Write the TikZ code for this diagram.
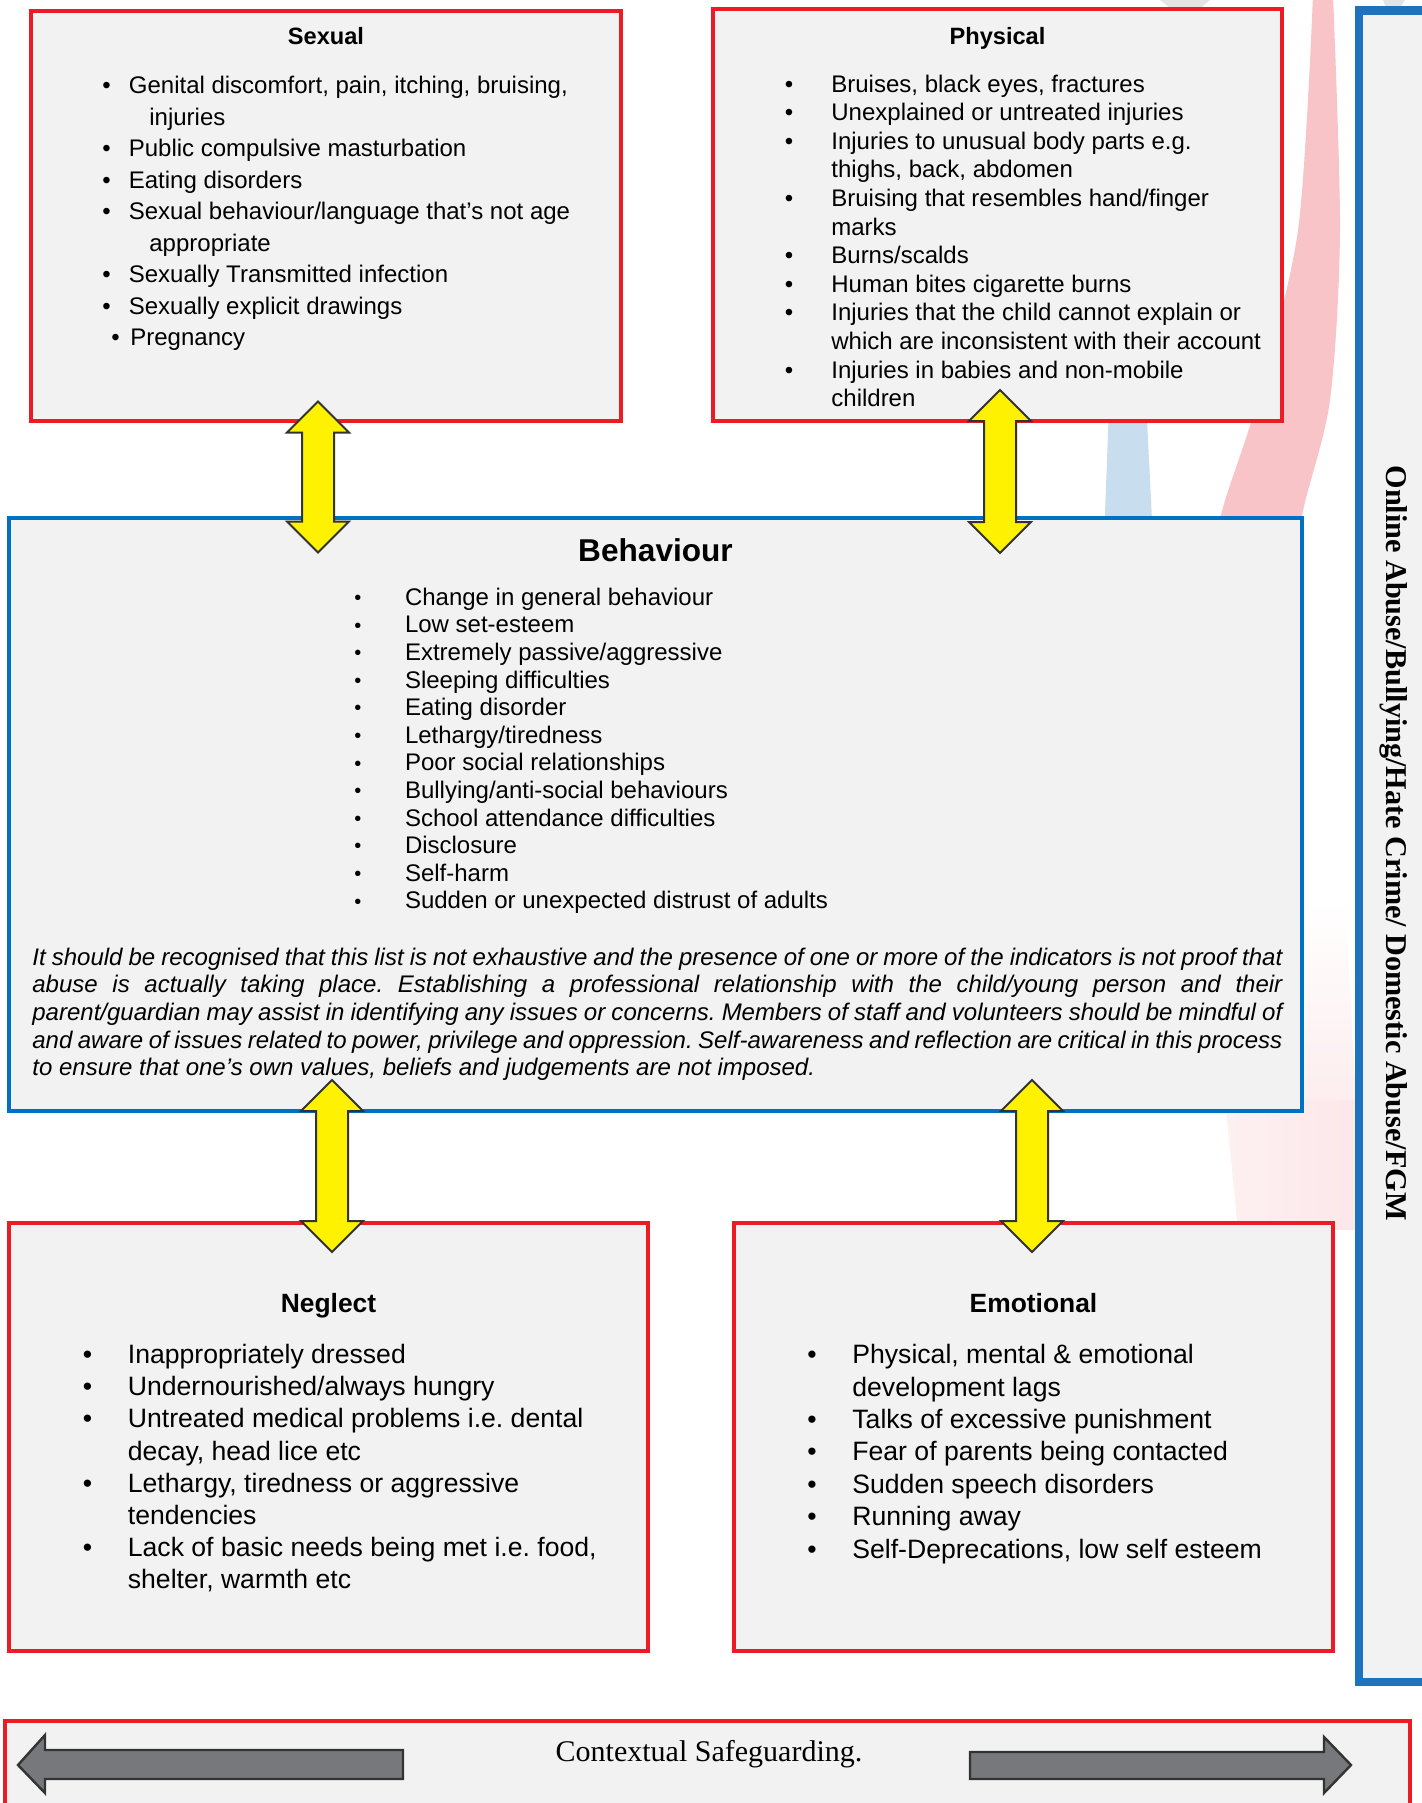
\documentclass[tikz,border=0pt]{standalone}
\usepackage{fontspec}
\setmainfont{Liberation Sans}
\newfontfamily\capfont{Liberation Serif}
\usetikzlibrary{calc}

\definecolor{boxred}{HTML}{ED1C24}
\definecolor{boxblue}{HTML}{0070C0}
\definecolor{sideblue}{HTML}{1E73BE}
\definecolor{boxfill}{HTML}{F2F2F2}
\definecolor{swpink}{HTML}{F8C4C8}
\definecolor{swblue}{HTML}{C8DDEE}
\definecolor{swgray}{HTML}{E4E4E4}
\definecolor{arrline}{HTML}{333333}
\definecolor{blockgray}{HTML}{77787B}

\newcommand{\bul}[1]{\makebox[#1][l]{\textbullet}}
\newcommand{\sbul}[1]{\makebox[#1][l]{\raisebox{0.4pt}{\fontsize{10}{10}\selectfont\textbullet}}}

\begin{document}
\frenchspacing
\begin{tikzpicture}[
    x=0.5pt, y=-0.5pt,
    box/.style={draw=boxred, fill=boxfill, line width=2pt, anchor=north west, inner sep=0pt, outer sep=0pt},
    bluebox/.style={box, draw=boxblue},
    title/.style={anchor=base, font=\fontsize{11.8}{14}\selectfont\bfseries},
    list/.style={anchor=north west, inner sep=0pt, align=left},
    yarr/.style={fill=yellow, draw=arrline, line width=1pt},
    garr/.style={fill=blockgray, draw=arrline, line width=1.2pt}
]
    \useasboundingbox (0,0) rectangle (1421,1803);

    % Background swooshes (behind the boxes)
    \fill[swgray] (1160,0) -- (1210,0) -- (1198,10) -- (1172,10) -- cycle;
    \fill[swgray] (1383,0) -- (1405,0) -- (1400,8) -- (1386,8) -- cycle;
    \fill[swpink] plot[smooth] coordinates {(1313,-5) (1298,230) (1257,402) (1222,511) (1205,600)}
        -- plot[smooth] coordinates {(1290,600) (1303,511) (1330,400) (1340,230) (1333,-5)} -- cycle;
    \shade[top color=white, bottom color=swpink!30] (1300,900) -- (1345,900) -- (1356,1100) -- (1225,1100) -- cycle;
    \shade[left color=swpink!25, right color=swpink!40] (1225,1100) -- (1356,1100) -- (1356,1230) -- (1238,1230) -- cycle;
    \fill[swblue] (1110,380) -- (1145,380) -- (1153,540) -- (1104,540) -- cycle;

    % Boxes
    \node[box, minimum width=295pt, minimum height=204.75pt] (sexual) at (31,11.5) {};
    \node[box, minimum width=284.5pt, minimum height=206pt] (physical) at (713,9) {};
    \node[bluebox, minimum width=646.5pt, minimum height=296.5pt] (behaviour) at (9,518) {};
    \node[box, minimum width=319.5pt, minimum height=214pt] (neglect) at (9,1223) {};
    \node[box, minimum width=299.5pt, minimum height=214pt] (emotional) at (734,1223) {};
    \node[box, draw=sideblue, line width=4.2pt, minimum width=60pt, minimum height=835.75pt] (online) at (1359,10.5) {};
    \node[box, minimum width=702.75pt, minimum height=100pt] (context) at (4.5,1721) {};

    % Yellow two-way arrows between the boxes
    \foreach \ax/\ya/\yb in {318/401.5/552.5, 1000/390/553, 332/1080/1252, 1032/1080/1252}
        \draw[yarr] (\ax,\ya) -- ++(31,31) -- ++(-15,0) -- ({\ax+16},{\yb-31}) -- ++(15,0) -- (\ax,\yb)
            -- ++(-31,-31) -- ++(15,0) -- ({\ax-16},{\ya+31}) -- ++(-15,0) -- cycle;

    % Grey arrows in the bottom bar
    \draw[garr] (18,1765) -- (45,1735) -- (45,1750) -- (403,1750) -- (403,1779) -- (45,1779) -- (45,1793) -- cycle;
    \draw[garr] (1351,1765) -- (1324,1737) -- (1324,1752) -- (970,1752) -- (970,1779) -- (1324,1779) -- (1324,1793) -- cycle;

    % Sexual
    \node[title] (sextitle) at (326,45) {Sexual};
    \node[list, font=\fontsize{12}{15.75}\selectfont] (sexlist) at (102,71.3) {%
        \strut\bul{13.25pt}Genital discomfort, pain, itching, bruising,\\
        \hspace*{23.5pt}injuries\\
        \bul{13.25pt}Public compulsive masturbation\\
        \bul{13.25pt}Eating disorders\\
        \bul{13.25pt}Sexual behaviour/language that’s not age\\
        \hspace*{23.5pt}appropriate\\
        \bul{13.25pt}Sexually Transmitted infection\\
        \bul{13.25pt}Sexually explicit drawings\\
        \hspace*{4.5pt}\bul{9.5pt}Pregnancy};

    % Physical
    \node[title] (phystitle) at (997.5,45) {Physical};
    \node[list, font=\fontsize{12}{14.3}\selectfont] (physlist) at (784.5,71.7) {%
        \strut\bul{23.25pt}Bruises, black eyes, fractures\\
        \bul{23.25pt}Unexplained or untreated injuries\\
        \bul{23.25pt}Injuries to unusual body parts e.g.\\
        \hspace*{23.25pt}thighs, back, abdomen\\
        \bul{23.25pt}Bruising that resembles hand/finger\\
        \hspace*{23.25pt}marks\\
        \bul{23.25pt}Burns/scalds\\
        \bul{23.25pt}Human bites cigarette burns\\
        \bul{23.25pt}Injuries that the child cannot explain or\\
        \hspace*{23.25pt}which are inconsistent with their account\\
        \bul{23.25pt}Injuries in babies and non-mobile\\
        \hspace*{23.25pt}children};

    % Behaviour
    \node[title, font=\fontsize{15.8}{18}\selectfont\bfseries] (behtitle) at (655.5,561) {Behaviour};
    \node[list, font=\fontsize{12}{13.8}\selectfont] (behlist) at (354,585.5) {%
        \strut\sbul{25.3pt}Change in general behaviour\\
        \sbul{25.3pt}Low set-esteem\\
        \sbul{25.3pt}Extremely passive/aggressive\\
        \sbul{25.3pt}Sleeping difficulties\\
        \sbul{25.3pt}Eating disorder\\
        \sbul{25.3pt}Lethargy/tiredness\\
        \sbul{25.3pt}Poor social relationships\\
        \sbul{25.3pt}Bullying/anti-social behaviours\\
        \sbul{25.3pt}School attendance difficulties\\
        \sbul{25.3pt}Disclosure\\
        \sbul{25.3pt}Self-harm\\
        \sbul{25.3pt}Sudden or unexpected distrust of adults};
    \node[anchor=north west, inner sep=0pt, text width=625pt, align=justify,
          font=\fontsize{12}{13.8}\selectfont\itshape] (behnote) at (32,945.5) {%
        \strut It should be recognised that this list is not exhaustive and the presence of one or more of the indicators is not proof that\linebreak
        abuse is actually taking place. Establishing a professional relationship with the child/young person and their\linebreak
        parent/guardian may assist in identifying any issues or concerns. Members of staff and volunteers should be mindful of\linebreak
        and aware of issues related to power, privilege and oppression. Self-awareness and reflection are critical in this process\linebreak
        to ensure that one’s own values, beliefs and judgements are not imposed.};

    % Neglect
    \node[title, font=\fontsize{13.2}{16}\selectfont\bfseries] (negtitle) at (328.5,1312) {Neglect};
    \node[list, font=\fontsize{13.3}{16.1}\selectfont] (neglist) at (82.5,1340.5) {%
        \strut\bul{22.5pt}Inappropriately dressed\\
        \bul{22.5pt}Undernourished/always hungry\\
        \bul{22.5pt}Untreated medical problems i.e. dental\\
        \hspace*{22.5pt}decay, head lice etc\\
        \bul{22.5pt}Lethargy, tiredness or aggressive\\
        \hspace*{22.5pt}tendencies\\
        \bul{22.5pt}Lack of basic needs being met i.e. food,\\
        \hspace*{22.5pt}shelter, warmth etc};

    % Emotional
    \node[title, font=\fontsize{13.2}{16}\selectfont\bfseries] (emotitle) at (1033.5,1312) {Emotional};
    \node[list, font=\fontsize{13.3}{16.2}\selectfont] (emolist) at (807,1340.5) {%
        \strut\bul{22.5pt}Physical, mental \& emotional\\
        \hspace*{22.5pt}development lags\\
        \bul{22.5pt}Talks of excessive punishment\\
        \bul{22.5pt}Fear of parents being contacted\\
        \bul{22.5pt}Sudden speech disorders\\
        \bul{22.5pt}Running away\\
        \bul{22.5pt}Self-Deprecations, low self esteem};

    % Side and bottom labels
    \node[anchor=base, rotate=-90, inner sep=0pt, font=\capfont\fontsize{15.1}{18}\selectfont\bfseries] (onlinetext) at (1386,843)
        {Online Abuse/Bullying/Hate Crime/ Domestic Abuse/FGM};
    \node[anchor=base, inner sep=0pt, font=\capfont\fontsize{15}{18}\selectfont] (contexttext) at (709,1761.7) {Contextual Safeguarding.};
\end{tikzpicture}
\end{document}
